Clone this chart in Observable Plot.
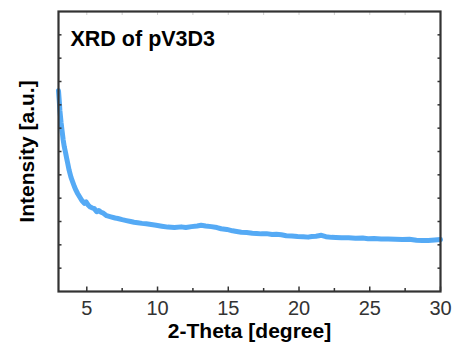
<!DOCTYPE html>
<html>
<head>
<meta charset="utf-8">
<script src="https://cdn.jsdelivr.net/npm/d3@7"></script>
<script src="https://cdn.jsdelivr.net/npm/@observablehq/plot@0.6"></script>
<style>
  html, body { margin: 0; padding: 0; background: #fff; }
  #chart svg { display: block; }
</style>
</head>
<body>
<div id="chart"></div>
<script>
const title = "XRD of pV3D3";
const xLabel = "2-Theta [degree]";
const yLabel = "Intensity [a.u.]";
const xMajorTicks = [5, 10, 15, 20, 25, 30];
const xMinorTicks = [7.5, 12.5, 17.5, 22.5, 27.5];
const xTopTicks = [5, 7.5, 10, 12.5, 15, 17.5, 20, 22.5, 25, 27.5];
const yTicks = [1, 2, 3, 4, 5, 6, 7, 8, 9, 10, 11];

const twoTheta = [3.0, 3.05, 3.1, 3.18, 3.25, 3.33, 3.41, 3.5, 3.58, 3.65, 3.75, 3.88, 4.0, 4.12, 4.24, 4.35, 4.5, 4.65, 4.83, 4.95, 5.1, 5.25, 5.4, 5.53, 5.7, 5.85, 6.01, 6.15, 6.4, 6.7, 7.0, 7.19, 7.5, 7.8, 8.1, 8.34, 8.6, 8.9, 9.2, 9.55, 9.9, 10.3, 10.73, 11.2, 11.67, 12.0, 12.4, 12.8, 13.08, 13.4, 13.8, 14.2, 14.5, 14.9, 15.3, 15.6, 15.92, 16.3, 16.7, 17.0, 17.34, 17.7, 18.1, 18.4, 18.75, 19.1, 19.5, 19.9, 20.3, 20.64, 20.9, 21.2, 21.58, 21.9, 22.3, 22.6, 23.0, 23.5, 24.0, 24.5, 24.88, 25.3, 25.8, 26.3, 26.8, 27.3, 27.8, 28.3, 28.7, 29.13, 29.6, 30.0];
const intensity = [8.6, 8.2, 7.75, 7.25, 6.9, 6.5, 6.2, 5.95, 5.7, 5.5, 5.2, 4.9, 4.7, 4.5, 4.33, 4.2, 4.05, 3.9, 3.78, 3.84, 3.7, 3.62, 3.58, 3.55, 3.42, 3.47, 3.4, 3.36, 3.25, 3.2, 3.15, 3.13, 3.08, 3.04, 3.0, 2.97, 2.95, 2.92, 2.9, 2.87, 2.84, 2.8, 2.76, 2.74, 2.77, 2.74, 2.78, 2.81, 2.84, 2.81, 2.78, 2.74, 2.69, 2.66, 2.6, 2.57, 2.54, 2.53, 2.5, 2.49, 2.47, 2.48, 2.44, 2.45, 2.43, 2.39, 2.38, 2.36, 2.35, 2.33, 2.36, 2.37, 2.41, 2.35, 2.32, 2.31, 2.3, 2.3, 2.28, 2.29, 2.26, 2.27, 2.25, 2.25, 2.24, 2.23, 2.24, 2.2, 2.19, 2.19, 2.21, 2.23];

const data = twoTheta.map((x, i) => ({x, y: intensity[i]}));

const font = "'Liberation Sans', Arial, Helvetica, sans-serif";
const axisColor = "#333";

const chart = Plot.plot({
  width: 454,
  height: 345,
  marginLeft: 58,
  marginRight: 14,
  marginTop: 11,
  marginBottom: 54,
  style: {fontFamily: font, background: "#fff", overflow: "visible"},
  x: {domain: [3, 30], axis: null},
  y: {domain: [0, 12], axis: null},
  marks: [
    Plot.line(data, {x: "x", y: "y", stroke: "#55aaf5", strokeWidth: 5, strokeLinejoin: "round", strokeLinecap: "round", curve: "linear"}),
    Plot.axisX({ticks: xMajorTicks, anchor: "bottom", tickSize: -4.5, tickFormat: () => "", label: null, stroke: axisColor, strokeWidth: 1.5}),
    Plot.axisX({ticks: xMinorTicks, anchor: "bottom", tickSize: -3, tickFormat: () => "", label: null, stroke: axisColor, strokeWidth: 1.5}),
    Plot.axisX({ticks: xMajorTicks, anchor: "bottom", tickSize: 0, tickPadding: 9, label: null, fontSize: 20, fill: axisColor}),
    Plot.axisX({ticks: xTopTicks, anchor: "top", tickSize: -3, tickFormat: () => "", label: null, stroke: "#d0d0d0", strokeWidth: 1}),
    Plot.axisY({ticks: yTicks, anchor: "left", tickSize: -3.5, tickFormat: () => "", label: null, stroke: axisColor, strokeWidth: 1.5}),
    Plot.axisY({ticks: yTicks, anchor: "right", tickSize: -3.5, tickFormat: () => "", label: null, stroke: axisColor, strokeWidth: 1.5}),
    Plot.frame({stroke: axisColor, strokeWidth: 2.2}),
    Plot.text([title], {frameAnchor: "top-left", dx: 12, dy: 19, text: d => d, fontSize: 21.5, fontWeight: "bold", fill: "#000", textAnchor: "start", lineAnchor: "top"}),
    Plot.text([xLabel], {frameAnchor: "bottom", dy: 40, text: d => d, fontSize: 21, fontWeight: "bold", fill: "#000", textAnchor: "middle", lineAnchor: "middle"}),
    Plot.text([yLabel], {frameAnchor: "left", dx: -31, text: d => d, fontSize: 21, fontWeight: "bold", fill: "#000", rotate: -90, textAnchor: "middle", lineAnchor: "middle"})
  ]
});
document.getElementById("chart").appendChild(chart);
</script>
</body>
</html>
